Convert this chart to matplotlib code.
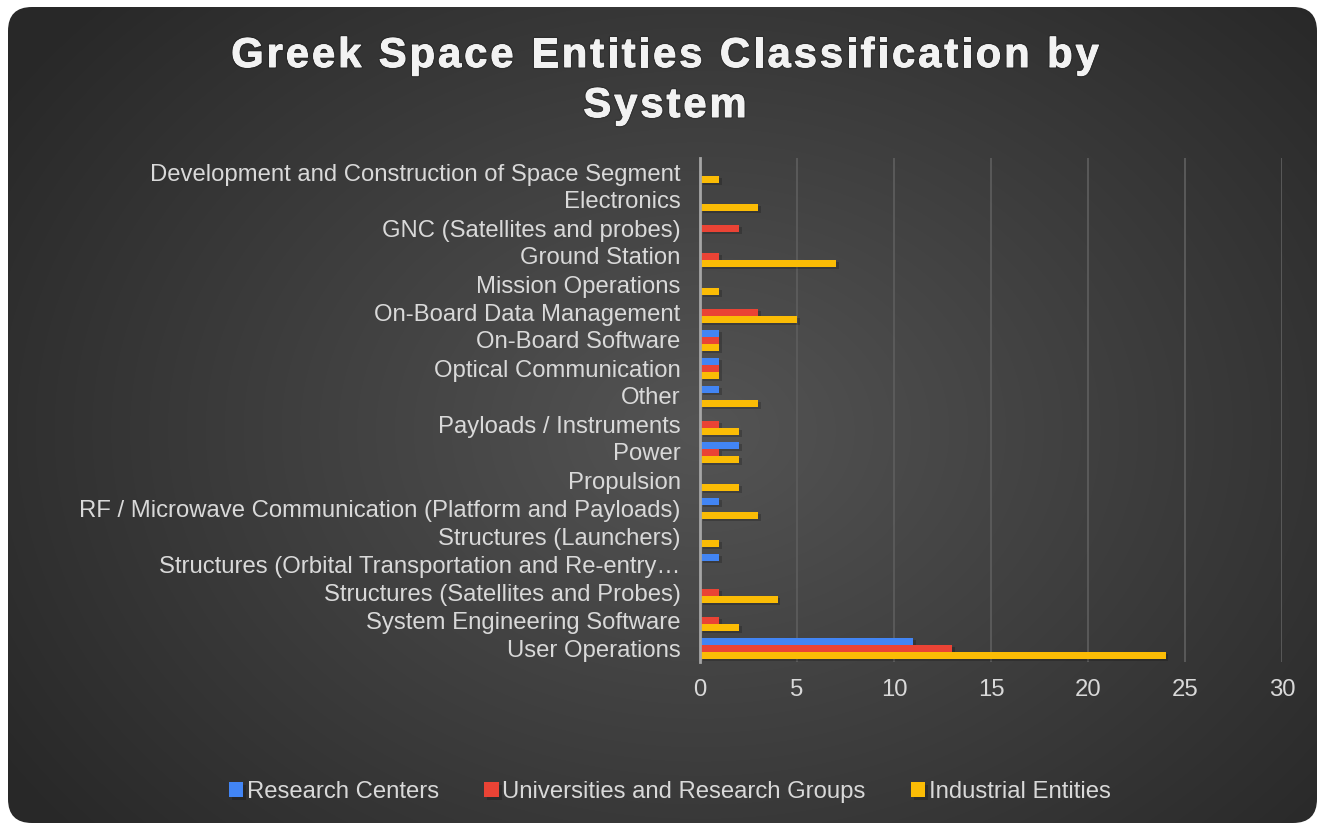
import numpy as np
import matplotlib.pyplot as plt
from matplotlib.patches import FancyBboxPatch
from matplotlib.font_manager import findfont, FontProperties
from matplotlib.ft2font import FT2Font
import matplotlib.patheffects as pe

plt.rcParams['font.family'] = ['Liberation Sans', 'DejaVu Sans']

categories = [
    'Development and Construction of Space Segment',
    'Electronics',
    'GNC (Satellites and probes)',
    'Ground Station',
    'Mission Operations',
    'On-Board Data Management',
    'On-Board Software',
    'Optical Communication',
    'Other',
    'Payloads / Instruments',
    'Power',
    'Propulsion',
    'RF / Microwave Communication (Platform and Payloads)',
    'Structures (Launchers)',
    'Structures (Orbital Transportation and Re-entry\u2026',
    'Structures (Satellites and Probes)',
    'System Engineering Software',
    'User Operations',
]
research = [0, 0, 0, 0, 0, 0, 1, 1, 1, 0, 2, 0, 1, 0, 1, 0, 0, 11]
universities = [0, 0, 2, 1, 0, 3, 1, 1, 0, 1, 1, 0, 0, 0, 0, 1, 1, 13]
industrial = [1, 3, 0, 7, 1, 5, 1, 1, 3, 2, 2, 2, 3, 1, 0, 4, 2, 24]
series_names = ['Research Centers', 'Universities and Research Groups', 'Industrial Entities']
colors = ['#4285F4', '#EA4335', '#FBBC05']
title_lines = ['Greek Space Entities Classification by', 'System']

W, H = 1324, 827
fig = plt.figure(figsize=(W / 100, H / 100), dpi=100)
fig.patch.set_facecolor('white')

# dark radial-gradient background with rounded corners
bg = fig.add_axes([0, 0, 1, 1], zorder=0)
bg.set_axis_off()
yy, xx = np.mgrid[0:H, 0:W]
d = np.sqrt(((xx - 700) / 820) ** 2 + ((yy - 430) / 620) ** 2)
shade = 0.33 - 0.17 * np.clip(d, 0, 1)
img = np.dstack([shade] * 3)
im = bg.imshow(img, extent=[0, W, H, 0], aspect='auto')
bg.set_xlim(0, W)
bg.set_ylim(H, 0)
frame = FancyBboxPatch((8, 7), W - 15, H - 11, boxstyle='round,pad=0,rounding_size=24',
                       transform=bg.transData, facecolor='none', edgecolor='none')
bg.add_patch(frame)
im.set_clip_path(frame)

# title with letter spacing, drawn char by char
title_size = 30
tracking = 3.0
font = FT2Font(findfont(FontProperties(family='Liberation Sans', weight='bold')))
font.set_size(title_size, 100)
title_fx = [pe.withStroke(linewidth=2.5, foreground='#111111', alpha=0.25),
            pe.withStroke(linewidth=0.7, foreground='#f2f2f2')]
for line, base in zip(title_lines, [67, 117]):
    adv = [font.load_char(ord(c)).linearHoriAdvance / 65536 for c in line]
    total = sum(adv) + tracking * (len(line) - 1)
    x = 665 - total / 2
    for c, a in zip(line, adv):
        if c != ' ':
            bg.text(x, base, c, fontsize=title_size, fontweight='bold', color='#f2f2f2',
                    ha='left', va='baseline', path_effects=title_fx)
        x += a + tracking

# main chart
ax = fig.add_axes([700 / W, 1 - 662 / H, 582 / W, 504 / H], zorder=1)
ax.patch.set_alpha(0)
n = len(categories)
y = np.arange(n)
h = 0.25
shadow = [pe.withSimplePatchShadow(offset=(2, -2), shadow_rgbFace='black', alpha=0.2)]
for vals, off, col, name in zip([research, universities, industrial], [-h, 0, h], colors, series_names):
    ax.barh(y + off, vals, h, color=col, label=name, zorder=3, path_effects=shadow)

ax.set_ylim(n - 0.5, -0.5)
ax.set_xlim(0, 30)
ax.set_xticks(range(0, 31, 5))
ax.set_yticks(y)
ax.set_yticklabels(categories)
ax.tick_params(axis='both', length=0, colors='#d9d9d9', labelsize=17.2)
ax.tick_params(axis='y', pad=14)
ax.tick_params(axis='x', pad=12)
ax.grid(axis='x', color='#5c5c5c', linewidth=1.3, zorder=0)
for s in ['top', 'right', 'bottom']:
    ax.spines[s].set_visible(False)
ax.spines['left'].set_color('#a6a6a6')
ax.spines['left'].set_linewidth(2)
ax.spines['left'].set_zorder(4)

leg = fig.legend(loc='center', bbox_to_anchor=(670 / W, 1 - 792 / H), ncol=3, frameon=False,
                 fontsize=17.2, handlelength=0.6, handleheight=0.6, handletextpad=0.15,
                 columnspacing=1.9, labelcolor='#d9d9d9')

fig.savefig('out.png', dpi=100, facecolor=fig.get_facecolor())
